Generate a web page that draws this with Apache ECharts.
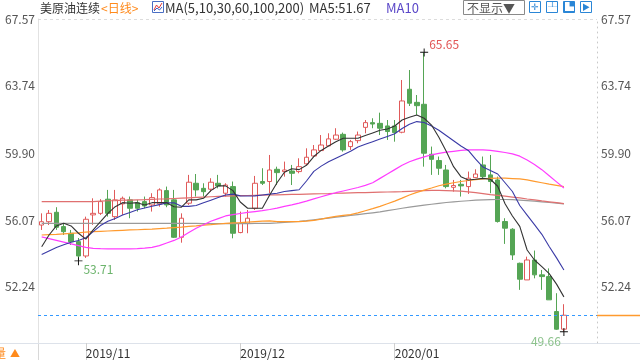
<!DOCTYPE html>
<html><head><meta charset="utf-8">
<script src="https://cdn.jsdelivr.net/npm/echarts@6/dist/echarts.min.js"></script>
<style>html,body{margin:0;padding:0;background:#fff}#c{width:640px;height:360px}</style>
</head><body><div id="c"></div>
<script>
// ---------- data ----------
const dates = [
 '2019/10/24','2019/10/25','2019/10/28','2019/10/29','2019/10/30','2019/10/31',
 '2019/11/01','2019/11/04','2019/11/05','2019/11/06','2019/11/07','2019/11/08','2019/11/11','2019/11/12','2019/11/13','2019/11/14','2019/11/15',
 '2019/11/18','2019/11/19','2019/11/20','2019/11/21','2019/11/22','2019/11/25','2019/11/26','2019/11/27','2019/11/28','2019/11/29',
 '2019/12/02','2019/12/03','2019/12/04','2019/12/05','2019/12/06','2019/12/09','2019/12/10','2019/12/11','2019/12/12','2019/12/13',
 '2019/12/16','2019/12/17','2019/12/18','2019/12/19','2019/12/20','2019/12/23','2019/12/24','2019/12/26','2019/12/27','2019/12/30','2019/12/31',
 '2020/01/02','2020/01/03','2020/01/06','2020/01/07','2020/01/08','2020/01/09','2020/01/10','2020/01/13','2020/01/14','2020/01/15','2020/01/16','2020/01/17',
 '2020/01/20','2020/01/21','2020/01/22','2020/01/23','2020/01/24','2020/01/27','2020/01/28','2020/01/29','2020/01/30','2020/01/31','2020/02/03','2020/02/04'
];
const futureDates = ['2020/02/05','2020/02/06','2020/02/07','2020/02/10'];
const monthLabels = ['2019/11', '2019/12', '2020/01'];

const opens  = [55.78,55.97,56.51,55.69,55.31,54.83,54.01,56.36,56.45,57.26,56.26,56.99,57.22,57.06,57.12,56.93,56.99,57.75,57.22,55.08,
                57.03,58.17,57.88,57.83,58.17,57.60,57.98,55.35,55.88,56.74,58.27,58.27,58.97,58.84,58.87,58.84,59.28,59.73,60.04,60.31,
                60.69,60.97,60.27,60.61,61.37,61.64,61.60,61.45,61.45,61.09,63.55,62.80,62.69,59.83,59.47,58.93,57.94,58.11,57.98,58.49,
                59.22,58.65,58.36,55.98,55.54,53.59,52.64,53.78,52.93,52.83,50.83,49.82];
const closes = [55.97,56.45,55.65,55.40,54.83,54.01,56.11,56.45,57.12,56.45,57.22,57.31,56.74,56.74,56.87,57.35,57.79,56.93,55.08,56.17,
                58.23,57.79,57.69,58.23,58.02,58.07,55.31,55.88,56.17,58.17,58.17,58.93,58.78,58.93,58.74,59.12,59.66,60.08,60.36,60.71,
                60.93,60.08,60.55,60.93,61.64,61.56,61.32,61.13,61.07,62.88,62.75,62.61,59.89,59.54,59.03,57.98,58.04,58.02,58.46,58.70,
                58.55,58.27,55.98,55.60,54.07,52.68,53.78,52.93,52.83,51.50,49.82,50.62];
const lows   = [55.50,55.78,55.50,55.21,54.64,53.71,53.90,55.79,56.36,56.26,56.07,56.36,56.17,56.55,56.74,56.55,56.83,56.80,55.04,54.77,
                56.93,57.41,57.41,57.69,57.88,57.41,55.02,55.31,55.31,56.64,58.07,57.60,58.07,58.55,58.07,58.74,59.22,59.70,60.04,60.31,
                60.65,59.98,60.08,60.46,61.03,61.32,60.93,60.65,60.55,61.03,62.59,62.08,59.12,58.65,58.65,57.88,57.69,57.41,57.56,58.46,
                58.46,57.60,55.92,54.70,53.78,52.07,52.64,52.73,52.07,51.50,49.78,49.66];
const highs  = [56.45,56.64,56.80,55.88,55.50,55.04,56.26,57.31,57.26,57.79,57.79,57.41,57.41,57.22,57.41,57.60,57.88,57.98,57.79,56.45,
                58.65,58.70,58.17,58.46,58.65,58.17,58.27,56.55,56.64,58.59,59.03,59.79,59.12,59.41,59.22,59.60,60.17,60.36,60.93,61.03,
                61.32,61.07,60.65,61.13,61.79,61.89,62.21,61.79,61.79,64.08,64.65,63.22,65.65,60.27,59.70,59.22,58.36,58.36,58.84,58.97,
                59.70,59.79,58.55,56.17,55.60,53.63,53.97,54.32,53.21,53.30,51.88,51.25];

const ma5   = [54.54,55.21,55.73,55.88,55.73,55.31,54.97,55.50,55.97,56.45,56.83,57.06,57.03,57.06,56.93,57.06,57.06,57.06,56.83,56.80,
               57.22,57.22,57.31,57.75,58.02,58.02,57.75,57.10,56.74,56.74,56.74,57.50,58.20,58.80,59.00,58.95,59.20,59.70,60.05,60.30,
               60.55,60.75,60.75,60.75,60.90,61.05,61.20,61.28,61.45,61.79,61.95,62.08,61.89,61.50,60.80,60.00,59.12,58.55,58.36,58.40,
               58.45,58.40,58.00,57.00,56.30,55.70,54.35,53.78,53.40,53.00,52.40,51.67];
const ma10  = [54.10,54.30,54.50,54.65,54.80,54.90,55.05,55.40,55.75,56.00,56.15,56.35,56.50,56.65,56.75,56.85,56.95,57.05,57.05,56.85,
               56.85,56.90,57.05,57.20,57.35,57.50,57.55,57.45,57.44,57.45,57.50,57.55,57.60,57.70,57.75,57.80,58.30,58.85,59.15,59.40,
               59.60,59.80,60.00,60.25,60.40,60.55,60.70,60.85,61.00,61.30,61.55,61.70,61.65,61.45,61.20,60.90,60.60,60.30,60.05,59.55,
               59.10,58.90,58.70,58.20,57.70,56.90,56.35,55.80,55.25,54.55,53.90,53.21];
const ma30  = [55.10,55.00,54.90,54.80,54.70,54.60,54.50,54.45,54.43,54.42,54.42,54.42,54.42,54.43,54.46,54.50,54.60,54.75,54.90,55.10,
               55.35,55.60,55.80,56.00,56.15,56.30,56.38,56.44,56.50,56.55,56.60,56.67,56.75,56.85,56.93,57.03,57.15,57.28,57.40,57.52,
               57.63,57.73,57.83,57.93,58.05,58.20,58.45,58.70,58.95,59.20,59.40,59.55,59.68,59.80,59.88,59.95,60.00,60.05,60.08,60.08,
               60.08,60.05,60.00,59.93,59.85,59.72,59.50,59.25,58.95,58.60,58.25,57.90];
const ma60  = [55.21,55.23,55.25,55.28,55.30,55.33,55.38,55.40,55.42,55.44,55.46,55.48,55.50,55.51,55.53,55.55,55.58,55.60,55.63,55.66,
               55.70,55.73,55.77,55.80,55.84,55.88,55.90,55.92,55.95,55.98,56.00,56.02,55.98,55.97,55.97,55.98,56.00,56.05,56.12,56.20,
               56.28,56.33,56.38,56.48,56.60,56.72,56.85,57.00,57.15,57.32,57.50,57.65,57.78,57.90,58.03,58.12,58.20,58.27,58.33,58.38,
               58.42,58.45,58.46,58.46,58.44,58.42,58.36,58.28,58.20,58.12,58.05,57.98];
const ma100 = [57.12,57.12,57.12,57.12,57.12,57.12,57.12,57.12,57.15,57.17,57.18,57.20,57.21,57.22,57.23,57.25,57.27,57.28,57.30,57.32,
               57.34,57.36,57.38,57.40,57.42,57.44,57.45,57.46,57.47,57.48,57.49,57.50,57.51,57.52,57.53,57.54,57.55,57.56,57.57,57.58,
               57.60,57.61,57.62,57.63,57.64,57.65,57.66,57.67,57.68,57.69,57.71,57.73,57.75,57.76,57.76,57.75,57.74,57.72,57.68,57.63,
               57.58,57.52,57.48,57.43,57.38,57.33,57.27,57.22,57.16,57.11,57.06,57.01];
const ma200 = [55.88,55.88,55.88,55.88,55.88,55.88,55.88,55.88,55.88,55.88,55.88,55.88,55.88,55.88,55.88,55.88,55.88,55.88,55.88,55.88,
               55.87,55.87,55.86,55.86,55.86,55.86,55.86,55.86,55.86,55.87,55.87,55.88,55.90,55.93,55.96,55.99,56.03,56.08,56.13,56.18,
               56.23,56.28,56.33,56.38,56.43,56.48,56.53,56.60,56.67,56.74,56.80,56.86,56.92,56.97,57.02,57.07,57.11,57.14,57.17,57.20,
               57.22,57.23,57.24,57.24,57.23,57.21,57.18,57.15,57.11,57.07,57.03,56.99];

const yTicks = [52.24, 56.07, 59.90, 63.74, 67.57];
const yMin = 49.03, yMax = 67.57;
const lastPrice = 50.62;
const extremes = [
  {idx: 52, value: 65.65, kind: 'high'},
  {idx: 5,  value: 53.71, kind: 'low'},
  {idx: 71, value: 49.66, kind: 'lastlow'}
];

// ---------- chart ----------
const FONT = "'Microsoft YaHei','Noto Sans CJK SC','Noto Sans',sans-serif";
const cats = dates.concat(futureDates);
const ohlc = opens.map((o, i) => [o, closes[i], lows[i], highs[i]]);
const monthStart = new Set();
for (let i = 1; i < dates.length; i++) {
  const m = dates[i].slice(0, 7);
  if (m !== dates[i - 1].slice(0, 7) && monthLabels.indexOf(m) >= 0) monthStart.add(i);
}
const crossPath = 'path://M0,4L10,4L10,5.2L0,5.2Z M4.4,0L5.6,0L5.6,10L4.4,10Z';
const markData = extremes.map(e => {
  let label;
  if (e.kind === 'high') label = {position: 'right', distance: 1, offset: [0, -8], color: '#e25555'};
  else if (e.kind === 'low') label = {position: 'right', distance: 1, offset: [0, 8], color: '#6cb46c'};
  else label = {position: 'left', distance: 1, offset: [2, 9], color: '#8cc28c'};
  return {coord: [dates[e.idx], e.value], value: e.value,
          label: Object.assign({show: true, fontSize: 12, fontFamily: FONT, formatter: e.value.toFixed(2)}, label)};
});

const lineSeries = (name, data, color, w) => ({
  name, type: 'line', data, showSymbol: false, symbol: 'none', smooth: false, z: 3,
  lineStyle: {color, width: w || 1}, silent: true
});

const chart = echarts.init(document.getElementById('c'));
const yAxisBase = {
  type: 'value', min: yMin, max: yMax, scale: true,
  splitLine: {show: false}, axisTick: {show: false},
  axisLabel: {customValues: yTicks, formatter: v => v.toFixed(2), color: '#555', fontSize: 12, fontFamily: FONT}
};
chart.setOption({
  animation: false,
  textStyle: {fontFamily: FONT},
  grid: {left: 38, right: 43, top: 19, bottom: 17},
  xAxis: {
    type: 'category', data: cats, boundaryGap: true,
    axisLine: {show: true, lineStyle: {color: '#dde2ea'}},
    axisTick: {show: true, alignWithLabel: true, interval: (i) => monthStart.has(i), length: 17, lineStyle: {color: '#d0d0d0'}},
    axisLabel: {interval: (i) => monthStart.has(i), formatter: v => v.slice(0, 7), align: 'left', color: '#333', fontSize: 12, margin: 4, fontFamily: FONT},
    splitLine: {show: false}
  },
  yAxis: [
    Object.assign({}, yAxisBase, {position: 'left', axisLine: {show: true, lineStyle: {color: '#e2e2e2'}},
      axisLabel: Object.assign({}, yAxisBase.axisLabel, {margin: 3})}),
    Object.assign({}, yAxisBase, {position: 'right', axisLine: {show: true, lineStyle: {color: '#c8c8c8', type: [1, 4]}},
      axisLabel: Object.assign({}, yAxisBase.axisLabel, {margin: 4})})
  ],
  series: [
    {
      name: 'K', type: 'candlestick', data: ohlc, barWidth: 5, z: 2,
      itemStyle: {color: '#ffffff', color0: '#55a555', borderColor: '#e05a5a', borderColor0: '#55a555', borderWidth: 1},
      markPoint: {
        symbol: crossPath, symbolSize: 8, itemStyle: {color: '#111'}, silent: true,
        data: markData
      }
    },
    lineSeries('MA200', ma200, '#9a9a9a', 1.2),
    lineSeries('MA100', ma100, '#e07070', 1.2),
    lineSeries('MA60', ma60, '#ff9a2e', 1.2),
    lineSeries('MA30', ma30, '#ff3cff', 1.2),
    lineSeries('MA10', ma10, '#3a3aa6', 1.1),
    lineSeries('MA5', ma5, '#333333', 1.1)
  ]
});

// decorations drawn in pixel space derived from the chart's own scales
const W = chart.getWidth(), H = chart.getHeight();
const yLast = Math.round(chart.convertToPixel({yAxisIndex: 0}, lastPrice)) + 0.5;
const yTop = Math.round(chart.convertToPixel({yAxisIndex: 0}, yMax)) + 0.5;
const gridLeft = 38, gridRight = W - 43;
const gridBottom = H - 17;
const btnBlue = '#2a86d6';
const txt = (x, y, s, color, extra) => ({type: 'text', x, y, style: Object.assign({text: s, fill: color, font: '12px ' + FONT, textVerticalAlign: 'middle'}, extra || {}), silent: true});
chart.setOption({
  graphic: [
    {type: 'line', z: 10, shape: {x1: gridLeft, y1: yLast, x2: gridRight, y2: yLast}, style: {stroke: '#3399ff', lineWidth: 1, lineDash: [3, 3]}, silent: true},
    {type: 'line', z: 10, shape: {x1: gridLeft, y1: yTop, x2: gridRight, y2: yTop}, style: {stroke: '#dcdcdc', lineWidth: 1, lineDash: [3, 3]}, silent: true},
    {type: 'line', z: 10, shape: {x1: gridRight, y1: yLast, x2: W, y2: yLast}, style: {stroke: '#ff9a2e', lineWidth: 1.5}, silent: true},
    {type: 'line', shape: {x1: 0, y1: gridBottom + 0.5, x2: W, y2: gridBottom + 0.5}, style: {stroke: '#dde2ea', lineWidth: 1}, silent: true},
    {type: 'line', shape: {x1: 38.5, y1: gridBottom, x2: 38.5, y2: H}, style: {stroke: '#d8d8d8', lineWidth: 1}, silent: true},
    txt(-6, 353, '量', '#ff8a1c'),
    txt(10, 353, '▲', '#ff8a1c', {font: '10px ' + FONT}),
    txt(40, 8, '美原油连续', '#333'),
    txt(101, 8, '<日线>', '#ff8a1c'),
    {type: 'rect', shape: {x: 152.5, y: 1.5, width: 11, height: 11}, style: {fill: '#fff', stroke: '#4a6fc4', lineWidth: 1}, silent: true},
    {type: 'polyline', shape: {points: [[154, 10], [156.5, 5], [159, 8], [162, 3]]}, style: {stroke: '#e03a3a', lineWidth: 1, fill: null}, silent: true},
    {type: 'polyline', shape: {points: [[154, 11], [157, 8], [159.5, 10], [162, 7]]}, style: {stroke: '#3a5ec4', lineWidth: 1, fill: null}, silent: true},
    txt(165, 8, 'MA(5,10,30,60,100,200)', '#333', {font: '13px ' + FONT}),
    txt(309, 8, 'MA5:51.67', '#333', {font: '13px ' + FONT}),
    txt(386, 8, 'MA10', '#5a47c8', {font: '13px ' + FONT}),
    {type: 'rect', shape: {x: 463.5, y: 0.5, width: 61, height: 14}, style: {fill: '#fff', stroke: '#8a8a8a', lineWidth: 1}, silent: true},
    txt(467, 8, '不显示▼', '#555'),
    {type: 'rect', shape: {x: 529.5, y: 1.5, width: 11, height: 11}, style: {fill: '#fff', stroke: btnBlue, lineWidth: 1}, silent: true},
    txt(531, 7, '✛', btnBlue, {font: '9px ' + FONT}),
    {type: 'rect', shape: {x: 546.5, y: 1.5, width: 11, height: 11}, style: {fill: '#fff', stroke: btnBlue, lineWidth: 1}, silent: true},
    txt(548, 7, '╨', btnBlue, {font: '9px ' + FONT}),
    {type: 'rect', shape: {x: 563.5, y: 1.5, width: 11, height: 11}, style: {fill: btnBlue, stroke: btnBlue, lineWidth: 1}, silent: true},
    txt(565, 7, '▙', '#fff', {font: '9px ' + FONT}),
    {type: 'rect', shape: {x: 580.5, y: 1.5, width: 11, height: 11}, style: {fill: '#fff', stroke: btnBlue, lineWidth: 1}, silent: true},
    txt(582, 7, '▶', btnBlue, {font: '8px ' + FONT})
  ]
});
</script>
</body></html>
